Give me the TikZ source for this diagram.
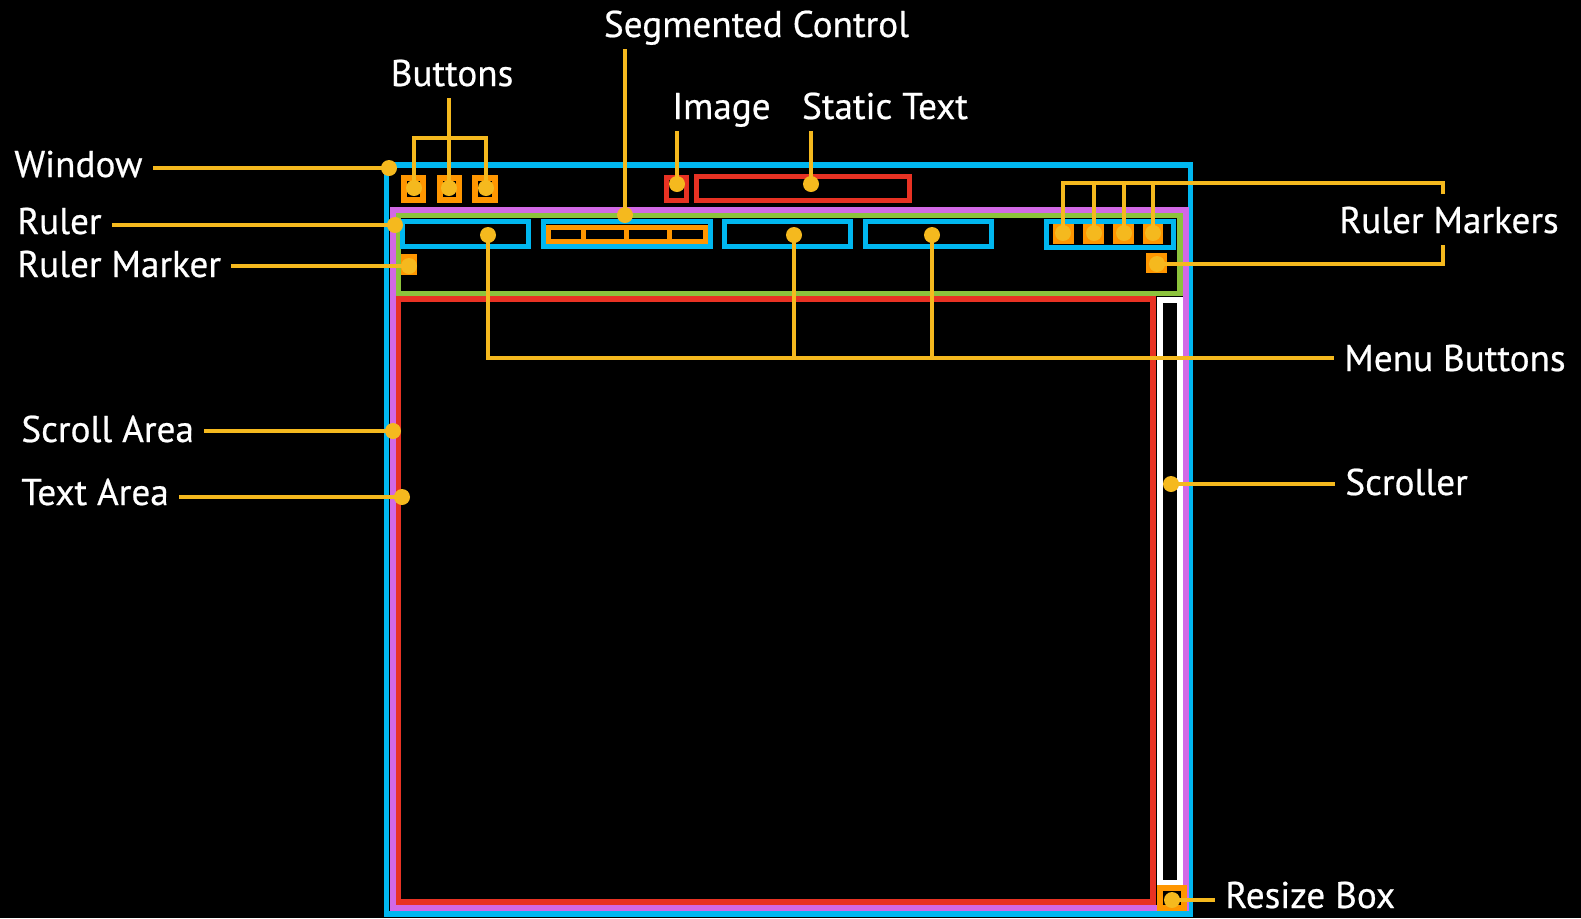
\documentclass[tikz,border=0pt]{standalone}
\usepackage{fontspec}
\setmainfont{PT Sans}
\newfontfamily\calloutfont[FakeBold=0.6]{PT Sans}

\definecolor{winblue}{RGB}{0,183,240}
\definecolor{areapurple}{RGB}{210,105,230}
\definecolor{rulergreen}{RGB}{140,195,60}
\definecolor{textred}{RGB}{232,50,35}
\definecolor{ctrlorange}{RGB}{255,150,0}
\definecolor{leadyellow}{RGB}{245,185,30}

\tikzset{
    frame/.style={line width=2.8pt},
    lead/.style={draw=leadyellow, line width=2pt},
    dot/.style={circle, fill=leadyellow, inner sep=0pt, minimum size=8pt},
    lbl/.style={text=white, inner xsep=5pt, inner ysep=6pt, text depth=0pt,
                font=\calloutfont\fontsize{18.6}{21}\selectfont},
}

\begin{document}
\begin{tikzpicture}[x=0.5pt,y=-0.5pt]
        \fill[black] (0,0) rectangle (1581,918);
        \useasboundingbox (0,0) rectangle (1581,918);
        % frames
        \draw[frame, winblue] (386.5,165) rectangle (1190.5,914);
        \draw[frame, areapurple] (393,210) rectangle (1186,908);
        \draw[frame, rulergreen] (398.5,215.5) rectangle (1180,293.5);
        \draw[frame, textred] (398.5,299) rectangle (1153,902);
        \draw[frame, white] (1160,300) rectangle (1180,882.5);
        % title bar
        \draw[line width=3pt, ctrlorange] (404,178) rectangle (423,200);
        \draw[line width=3pt, ctrlorange] (440,178) rectangle (459,200);
        \draw[line width=3pt, ctrlorange] (475,178) rectangle (495,200);
        \draw[line width=2.5pt, textred] (666.5,177.5) rectangle (686.5,200.5);
        \draw[line width=2.5pt, textred] (696.5,176.5) rectangle (909.5,200.5);
        % menu buttons
        \draw[frame, winblue] (402.5,221.5) rectangle (528.5,246.5);
        \draw[frame, winblue] (543.5,221.5) rectangle (710.5,246.5);
        \draw[frame, winblue] (724.5,221.5) rectangle (850.5,246.5);
        \draw[frame, winblue] (865.5,221.5) rectangle (991.5,246.5);
        \draw[frame, winblue] (1046.5,221.5) rectangle (1173.5,247.5);
        % segmented control
        \draw[line width=2.5pt, ctrlorange] (548.5,227.5) rectangle (705.5,241.5);
        \draw[line width=2.5pt, ctrlorange] (583.5,227.5) -- (583.5,241.5);
        \draw[line width=2.5pt, ctrlorange] (626.5,227.5) -- (626.5,241.5);
        \draw[line width=2.5pt, ctrlorange] (669.5,227.5) -- (669.5,241.5);
        % markers and resize box
        \fill[ctrlorange] (401,254) rectangle (417,275);
        \fill[ctrlorange] (1053,224) rectangle (1074,244);\fill[ctrlorange] (1083,224) rectangle (1104,244);
        \fill[ctrlorange] (1113,224) rectangle (1134,244);\fill[ctrlorange] (1143,224) rectangle (1163,244);
        \fill[ctrlorange] (1146,253) rectangle (1167,273);
        \draw[line width=3pt, ctrlorange, fill=black] (1160,888) rectangle (1184,908);
        % points
        \coordinate (pWin) at (389,168);\coordinate (pRuler) at (395,225);\coordinate (pMark) at (409,266);
        \coordinate (pScroll) at (393,431);\coordinate (pText) at (402,497);
        \coordinate (pB1) at (414,188);\coordinate (pB2) at (449,188);\coordinate (pB3) at (486,188);
        \coordinate (pSeg) at (625,215);\coordinate (pImg) at (677,184);\coordinate (pStatic) at (811,184);
        \coordinate (pM1) at (488,235);\coordinate (pM2) at (794,235);\coordinate (pM3) at (932,235);
        \coordinate (pK1) at (1063,233);\coordinate (pK2) at (1094,233);\coordinate (pK3) at (1124,233);
        \coordinate (pK4) at (1153,233);\coordinate (pK5) at (1157,264);
        \coordinate (pScr) at (1171,484);\coordinate (pRes) at (1172,900);
        \coordinate (bTop) at (449,138);\coordinate (mJoin) at (932,358);
        \coordinate (kTop) at (1443,183);\coordinate (kBot) at (1443,264);
        % labels
        \node[lbl, anchor=base west] (lWin) at (4,177) {Window};
        \node[lbl, anchor=base west] (lRuler) at (7,234) {Ruler};
        \node[lbl, anchor=base west] (lMark) at (7,277) {Ruler Marker};
        \node[lbl, anchor=base west] (lScroll) at (11,442) {Scroll Area};
        \node[lbl, anchor=base west] (lText) at (11,505) {Text Area};
        \node[lbl, anchor=base] (lSeg) at (756.5,37) {Segmented Control};
        \node[lbl, anchor=base] (lBtn) at (452,86) {Buttons};
        \node[lbl, anchor=base] (lImg) at (721.5,119) {Image};
        \node[lbl, anchor=base] (lStatic) at (885,119) {Static Text};
        \node[lbl, anchor=base west] (lMarks) at (1329,233) {Ruler Markers};
        \node[lbl, anchor=base west] (lMenu) at (1334,371) {Menu Buttons};
        \node[lbl, anchor=base west] (lScr) at (1335,495) {Scroller};
        \node[lbl, anchor=base west] (lRes) at (1215,908) {Resize Box};
        % leader lines
        \draw[lead] (pWin) -- (pWin -| lWin.east);
        \draw[lead] (pRuler) -- (pRuler -| lRuler.east);
        \draw[lead] (pMark) -- (pMark -| lMark.east);
        \draw[lead] (pScroll) -- (pScroll -| lScroll.east);
        \draw[lead] (pText) -- (pText -| lText.east);
        \draw[lead] (pB1) |- (bTop) -| (pB3);\draw[lead] (pB2) -- (pB2 |- lBtn.south);
        \draw[lead] (pSeg) -- (pSeg |- lSeg.south);
        \draw[lead] (pImg) -- (pImg |- lImg.south);
        \draw[lead] (pStatic) -- (pStatic |- lStatic.south);
        \draw[lead] (pM1) |- (mJoin) -- (mJoin -| lMenu.west);
        \draw[lead] (pM2) -- (pM2 |- mJoin);\draw[lead] (pM3) -- (mJoin);
        \draw[lead] (pK1) |- (kTop) -- (kTop |- lMarks.north);
        \draw[lead] (lMarks.south -| kTop) -- (kBot) -- (pK5);
        \draw[lead] (pK2) -- (pK2 |- kTop);\draw[lead] (pK3) -- (pK3 |- kTop);\draw[lead] (pK4) -- (pK4 |- kTop);
        \draw[lead] (pScr) -- (pScr -| lScr.west);
        \draw[lead] (pRes) -- (pRes -| lRes.west);
        % yellow point
        \node[dot] (dWin) at (pWin) {};\node[dot] (dRuler) at (pRuler) {};\node[dot] (dMark) at (pMark) {};
        \node[dot] (dScroll) at (pScroll) {};\node[dot] (dText) at (pText) {};
        \node[dot] (dB1) at (pB1) {};\node[dot] (dB2) at (pB2) {};\node[dot] (dB3) at (pB3) {};
        \node[dot] (dSeg) at (pSeg) {};\node[dot] (dImg) at (pImg) {};\node[dot] (dStatic) at (pStatic) {};
        \node[dot] (dM1) at (pM1) {};\node[dot] (dM2) at (pM2) {};\node[dot] (dM3) at (pM3) {};
        \node[dot] (dK1) at (pK1) {};\node[dot] (dK2) at (pK2) {};\node[dot] (dK3) at (pK3) {};
        \node[dot] (dK4) at (pK4) {};\node[dot] (dK5) at (pK5) {};
        \node[dot] (dScr) at (pScr) {};\node[dot] (dRes) at (pRes) {};
    \end{tikzpicture}
\end{document}
